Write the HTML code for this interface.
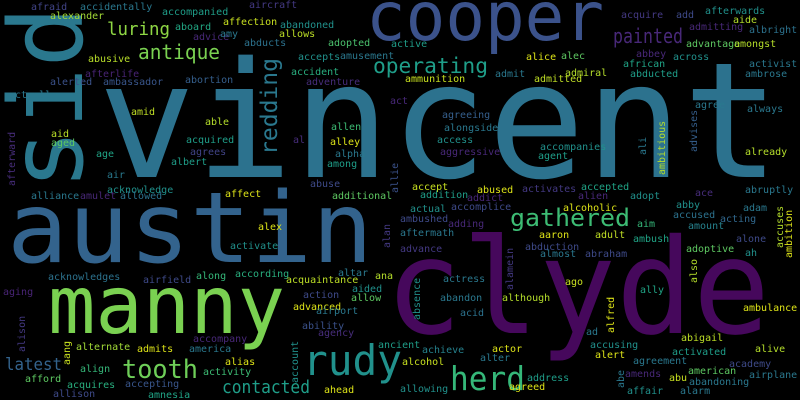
<!DOCTYPE html>
<html><head><meta charset="utf-8"><title>Word cloud</title>
<style>
html,body{margin:0;padding:0;background:#000;}
svg{display:block;}
text{font-family:"DejaVu Sans Mono","Liberation Mono",monospace;}
</style></head>
<body>
<svg id="cloud" width="800" height="400" viewBox="0 0 800 400" xmlns="http://www.w3.org/2000/svg">
<rect x="0" y="0" width="800" height="400" fill="#000"/>
</svg>
<script>
// words: [text, x, baselineY, fontSize, color, rotated(-90)?, textLength]
const bigWords = [
 ["vincent",98,177,161,"#2c728e",0,682],
 ["cooper",366,40,68,"#3b528b",0,238],
 ["sid",82,190,102,"#2a788e",1,184],
 ["austin",7,262,98,"#33638d",0,366],
 ["clyde",385,333,132,"#46085c",0,385],
 ["manny",48,333,80,"#7ad151",0,237],
 ["rudy",303,375,42,"#21918c",0,99],
 ["herd",450,390,33,"#35b779",0,75],
 ["gathered",510,226,24,"#3dbc74",0,120],
 ["tooth",122,378,26,"#6ece58",0,76],
 ["contacted",222,393,18,"#1f9e89",0,88],
 ["latest",5,370,17,"#33638d",0,57],
 ["operating",373,73,21,"#1f9e89",0,115],
 ["painted",613,43,20,"#482878",0,70],
 ["luring",107,35,18,"#8fd744",0,63],
 ["antique",138,59,20,"#7ad151",0,82],
 ["redding",277,155,23,"#2a788e",1,97]
];
const smallWords = [
 ["afraid",31,10,"#414487"],["accidentally",80,10,"#2a788e"],["alexander",50,19,"#a2da37"],
 ["accompanied",162,15,"#1f9e89"],["aircraft",249,8,"#443983"],["aboard",175,30,"#22a884"],
 ["affection",223,25,"#c8e020"],["abandoned",280,28,"#21918c"],["advice",193,40,"#482878"],
 ["amy",220,37,"#2a788e"],["allows",279,37,"#bddf26"],["abducts",244,46,"#2c728e"],
 ["adopted",328,46,"#4ac16d"],["accepts",298,60,"#21918c"],["amusement",340,59,"#2a788e"],
 ["abusive",88,62,"#b8de29"],["accident",291,75,"#29af7f"],["afterlife",85,77,"#482475"],
 ["alerted",50,85,"#3b528b"],["ambassador",103,85,"#39568c"],["abortion",185,83,"#355f8d"],
 ["adventure",306,85,"#472d7b"],["actually",9,98,"#2a788e"],["amid",131,115,"#c0df25"],
 ["able",205,125,"#b5de2b"],["aid",51,137,"#bade28"],["aged",51,146,"#5ec962"],
 ["acquired",186,143,"#1f9e89"],["agrees",190,155,"#414487"],["age",96,157,"#20a486"],
 ["albert",171,165,"#1f9e89"],["air",107,178,"#29798e"],["allen",331,130,"#3dbc74"],
 ["al",293,143,"#472d7b"],["alley",330,145,"#dde318"],["alpha",335,157,"#2a788e"],
 ["among",327,167,"#1f9e89"],["acknowledge",107,193,"#21918c"],["alliance",31,199,"#2a788e"],
 ["amulet",80,199,"#482878"],["allowed",120,199,"#2c728e"],["affect",225,197,"#dde318"],
 ["abuse",310,187,"#3e4a89"],["additional",332,199,"#5ec962"],["active",391,47,"#1f9e89"],
 ["act",390,104,"#482878"],
 ["acquire",621,18,"#443983"],["add",676,18,"#3e4a89"],["afterwards",705,14,"#21918c"],
 ["aide",733,23,"#b5de2b"],["admitting",689,30,"#482878"],["albright",749,33,"#2c728e"],
 ["advantage",686,47,"#5ec962"],["amongst",734,47,"#b5de2b"],["abbey",636,57,"#482878"],
 ["across",673,60,"#21918c"],["alice",526,60,"#dde318"],["alec",561,59,"#5ec962"],
 ["african",623,67,"#20a486"],["activist",749,67,"#2a788e"],["admit",495,77,"#2a788e"],
 ["admiral",565,76,"#b5de2b"],["abducted",630,77,"#1f9e89"],["ambrose",745,77,"#2a788e"],
 ["ammunition",405,82,"#c8e020"],["admitted",534,82,"#c0df25"],["agree",695,108,"#2a788e"],
 ["always",747,112,"#2a788e"],["agreeing",442,118,"#355f8d"],["alongside",444,131,"#2a788e"],
 ["access",437,143,"#21918c"],["accompanies",540,150,"#21918c"],["agent",538,159,"#1f9e89"],
 ["aggressive",440,155,"#482878"],["already",745,155,"#b5de2b"],["accept",412,190,"#c8e020"],
 ["addition",420,198,"#1f9e89"],["abused",477,193,"#dde318"],["activates",522,192,"#443983"],
 ["accepted",581,190,"#20a486"],["alien",578,199,"#482878"],["adopt",630,199,"#21918c"],
 ["ace",695,196,"#472d7b"],["abruptly",745,193,"#2a788e"],
 ["alex",258,230,"#dde318"],["activate",230,249,"#21918c"],["acknowledges",48,280,"#2c728e"],
 ["airfield",143,283,"#3e4a89"],["along",196,279,"#35b779"],["according",235,277,"#29af7f"],
 ["altar",338,276,"#2a788e"],["ana",375,279,"#b5de2b"],["acquaintance",286,283,"#bddf26"],
 ["aging",3,295,"#482475"],["aided",352,292,"#21918c"],["allow",351,301,"#5ec962"],
 ["action",303,298,"#3e4a89"],["advanced",293,310,"#dde318"],["airport",316,314,"#2a788e"],
 ["ability",302,329,"#3b528b"],["agency",318,336,"#472d7b"],["accompany",193,342,"#482878"],
 ["ancient",378,348,"#1f9e89"],["alternate",76,350,"#a2da37"],["admits",137,352,"#dde318"],
 ["america",189,352,"#2a788e"],["alias",225,365,"#dde318"],["align",80,372,"#35b779"],
 ["activity",203,375,"#3dbc74"],["afford",25,382,"#5ec962"],["acquires",67,388,"#29af7f"],
 ["accepting",125,387,"#39568c"],["ahead",324,393,"#dde318"],["allison",53,397,"#3e4a89"],
 ["amnesia",148,398,"#20a486"],
 ["actual",410,212,"#21918c"],["accomplice",451,210,"#3e4a89"],["addict",467,201,"#482878"],
 ["alcoholic",563,211,"#dde318"],["abby",676,208,"#21918c"],["adam",743,211,"#2a788e"],
 ["ambushed",400,222,"#3e4a89"],["adding",448,227,"#482878"],["aim",637,227,"#35b779"],
 ["accused",673,218,"#2c728e"],["acting",720,222,"#31688e"],["amount",688,229,"#26828e"],
 ["aftermath",400,236,"#2a788e"],["aaron",539,238,"#dde318"],["adult",595,238,"#c0df25"],
 ["ambush",633,242,"#20a486"],["alone",736,242,"#3e4a89"],["abduction",525,250,"#3e4a89"],
 ["almost",540,257,"#2a788e"],["abraham",585,257,"#3e4a89"],["advance",400,252,"#443983"],
 ["adoptive",686,252,"#5ec962"],["ah",745,256,"#21918c"],["actress",443,282,"#2a788e"],
 ["ago",565,285,"#c8e020"],["ally",640,293,"#20a486"],["abandon",440,301,"#2a788e"],
 ["although",502,301,"#b5de2b"],["ambulance",743,311,"#dde318"],["acid",460,316,"#2c728e"],
 ["ad",586,335,"#2a788e"],["abigail",681,341,"#bddf26"],["accusing",590,348,"#21918c"],
 ["activated",672,355,"#1f9e89"],["alive",755,352,"#b5de2b"],["achieve",422,353,"#26828e"],
 ["actor",492,352,"#dde318"],["alert",595,358,"#dde318"],["alter",480,361,"#2a788e"],
 ["alcohol",402,365,"#c8e020"],["agreement",633,364,"#2a788e"],["academy",729,367,"#3e4a89"],
 ["amends",625,377,"#482878"],["american",688,374,"#5ec962"],["airplane",749,378,"#2a788e"],
 ["abu",669,381,"#c8e020"],["address",527,381,"#1f9e89"],["abandoning",689,385,"#2a788e"],
 ["allowing",400,392,"#21918c"],["agreed",509,390,"#dde318"],["affair",627,394,"#21918c"],
 ["alarm",680,394,"#2a788e"]
];
// rotated small words: [text, baselineX, startY, color]
const rotatedWords = [
 ["afterward",15,186,"#472d7b"],["allie",398,193,"#3b528b"],["ambitious",665,175,"#b5de2b"],
 ["ali",646,155,"#2a788e"],["advises",697,152,"#355f8d"],["alan",390,248,"#443983"],
 ["alison",25,352,"#443983"],["aang",70,365,"#c8e020"],["account",298,383,"#21918c"],
 ["accuses",783,248,"#b5de2b"],["ambition",792,258,"#dde318"],["also",697,283,"#b5de2b"],
 ["alamein",513,290,"#443983"],["absence",420,320,"#21918c"],["alfred",614,333,"#dde318"],
 ["abe",624,388,"#2a788e"]
];
const NS="http://www.w3.org/2000/svg";
const svg=document.getElementById("cloud");
function addWord(w,x,y,size,color,rot,len){
  const t=document.createElementNS(NS,"text");
  
  
  t.setAttribute("font-size",size);
  t.setAttribute("fill",color);
  if(rot){t.setAttribute("x",0);t.setAttribute("y",0);t.setAttribute("transform","translate("+x+","+y+") rotate(-90)");}
  else{t.setAttribute("x",x);t.setAttribute("y",y);}
  if(len){t.setAttribute("textLength",len);t.setAttribute("lengthAdjust","spacingAndGlyphs");}
  t.textContent=w;
  svg.appendChild(t);
}
bigWords.forEach(b=>addWord(b[0],b[1],b[2],b[3],b[4],b[5],b[6]));
smallWords.forEach(s=>addWord(s[0],s[1],s[2],10,s[3],0,0));
rotatedWords.forEach(r=>addWord(r[0],r[1],r[2],10,r[3],1,0));
</script>
</body></html>
